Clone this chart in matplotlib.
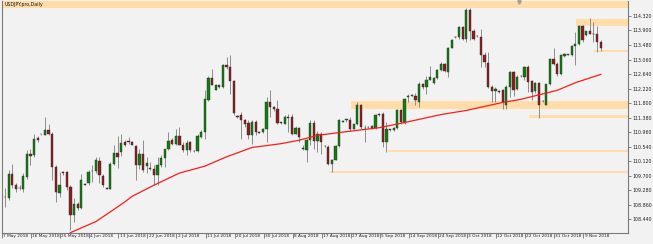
import matplotlib
matplotlib.use('Agg')
import matplotlib.pyplot as plt
from matplotlib.transforms import ScaledTranslation
import numpy as np

title = 'USDJPY.pro,Daily'

# daily OHLC (one bar per trading day incl. short sunday bars)
opens = [109.10, 109.07, 109.74, 109.43, 109.34, 109.33, 109.67, 110.34, 110.29, 110.79,
         110.90, 110.89, 111.03, 110.92, 109.96, 109.21, 109.81, 109.81, 109.38, 108.57,
         108.88, 108.76, 109.46, 109.48, 109.84, 109.84, 110.13, 109.70, 109.35, 109.33,
         110.05, 110.37, 110.39, 110.68, 110.70, 110.68, 110.55, 110.02, 110.34, 109.98,
         109.91, 109.91, 109.72, 110.01, 110.22, 110.47, 110.75, 110.63, 110.84, 110.58,
         110.44, 110.68, 110.42, 110.42, 110.82, 110.98, 111.88, 112.52, 112.19, 112.31,
         112.26, 112.89, 112.84, 112.43, 111.43, 111.45, 111.32, 111.23, 110.87, 111.26,
         110.96, 110.97, 111.06, 111.83, 111.69, 111.64, 111.24, 111.21, 111.39, 111.39,
         110.92, 111.09, 110.49, 110.45, 110.75, 111.24, 110.70, 110.92, 110.57, 110.53,
         110.05, 110.17, 110.55, 111.27, 111.30, 111.30, 111.06, 111.19, 111.75, 111.08,
         111.11, 111.08, 111.08, 111.49, 111.49, 110.68, 111.04, 111.03, 111.09, 111.61,
         111.24, 111.98, 112.02, 112.02, 111.83, 112.36, 112.26, 112.48, 112.39, 112.52,
         112.76, 112.94, 112.70, 113.40, 113.70, 113.70, 113.99, 113.66, 114.50, 113.88,
         113.75, 113.70, 113.18, 112.96, 112.28, 112.14, 112.14, 112.17, 111.76, 112.28,
         112.70, 112.20, 112.58, 112.55, 112.84, 112.43, 112.14, 112.39, 111.86, 111.76,
         112.34, 113.08, 112.94, 112.65, 113.16, 113.20, 113.18, 113.46, 113.51, 114.04,
         113.77, 113.87, 113.80, 113.80, 113.56]
highs = [109.35, 109.86, 110.03, 109.48, 109.43, 109.77, 110.46, 110.49, 110.92, 110.84,
         110.92, 111.40, 111.21, 110.97, 110.01, 109.81, 109.84, 109.84, 109.43, 109.05,
         108.95, 109.74, 109.48, 109.86, 110.01, 110.25, 110.25, 109.74, 109.38, 110.10,
         110.58, 110.84, 110.92, 110.75, 110.82, 110.70, 110.58, 110.49, 110.75, 110.25,
         110.10, 110.02, 110.25, 110.29, 110.49, 110.97, 110.80, 111.06, 111.11, 110.68,
         110.73, 110.70, 110.45, 110.92, 111.03, 112.19, 112.57, 112.79, 112.34, 112.33,
         112.94, 113.13, 113.18, 112.46, 111.46, 111.54, 111.34, 111.30, 111.30, 111.30,
         110.99, 111.09, 111.98, 112.17, 111.72, 111.88, 111.27, 111.45, 111.49, 111.49,
         111.13, 111.11, 110.58, 110.77, 111.30, 111.30, 110.99, 110.97, 110.60, 110.58,
         110.20, 110.58, 111.35, 111.30, 111.35, 111.40, 111.21, 111.83, 111.78, 111.16,
         111.14, 111.16, 111.49, 111.52, 111.54, 111.26, 111.06, 111.11, 111.64, 111.64,
         111.96, 112.07, 112.05, 112.10, 112.41, 112.38, 112.58, 112.87, 112.55, 112.79,
         112.98, 112.96, 113.42, 113.66, 113.73, 114.02, 114.02, 114.54, 114.54, 113.94,
         113.77, 113.94, 113.27, 113.27, 112.31, 112.26, 112.17, 112.22, 112.31, 112.74,
         112.74, 112.60, 112.61, 112.87, 112.89, 112.46, 112.41, 112.41, 111.88, 112.36,
         113.10, 113.39, 112.98, 113.21, 113.24, 113.23, 113.48, 113.85, 114.06, 114.06,
         113.89, 114.25, 114.14, 114.02, 113.61]
lows = [108.81, 108.99, 109.35, 109.24, 109.29, 109.24, 109.62, 110.02, 110.25, 110.68,
        110.87, 110.87, 110.87, 109.57, 108.95, 109.09, 109.72, 109.29, 108.13, 108.37,
        108.71, 108.74, 109.43, 109.45, 109.53, 109.77, 109.48, 109.38, 109.31, 109.31,
        110.02, 109.93, 110.27, 110.56, 110.63, 110.58, 109.57, 109.91, 109.81, 109.77,
        109.88, 109.43, 109.43, 109.96, 109.96, 110.44, 110.60, 110.58, 110.58, 110.39,
        110.29, 110.40, 110.39, 110.39, 110.80, 110.77, 111.85, 112.31, 112.17, 112.24,
        112.24, 112.79, 112.07, 111.45, 111.38, 110.77, 111.11, 110.77, 110.63, 110.87,
        110.93, 110.95, 110.68, 111.40, 111.58, 111.21, 111.20, 111.19, 110.97, 110.87,
        110.90, 110.68, 110.44, 110.10, 110.58, 110.49, 110.39, 110.34, 110.53, 110.00,
        109.81, 110.15, 110.53, 111.25, 111.26, 111.01, 111.04, 111.16, 111.06, 110.68,
        111.08, 111.06, 111.06, 111.43, 110.53, 110.39, 111.01, 111.01, 111.06, 111.21,
        111.21, 111.83, 112.00, 111.74, 111.69, 112.22, 112.07, 112.46, 112.36, 112.50,
        112.74, 112.70, 112.55, 113.38, 113.68, 113.66, 113.61, 113.56, 113.63, 113.61,
        113.72, 112.84, 112.84, 112.23, 111.83, 111.83, 112.10, 111.64, 111.64, 111.98,
        112.02, 112.17, 112.56, 112.46, 112.12, 111.88, 112.10, 111.37, 111.83, 111.74,
        112.31, 112.89, 112.58, 112.60, 113.13, 113.18, 113.16, 112.91, 113.49, 113.56,
        113.75, 113.79, 113.56, 113.29, 113.32]
closes = [109.08, 109.74, 109.43, 109.31, 109.35, 109.69, 110.34, 110.27, 110.77, 110.73,
          110.91, 111.03, 110.90, 109.96, 109.24, 109.45, 109.77, 109.38, 108.57, 108.88,
          108.78, 109.57, 109.45, 109.81, 109.85, 110.15, 109.72, 109.43, 109.33, 110.05,
          110.37, 110.25, 110.66, 110.60, 110.69, 110.60, 110.02, 110.34, 109.86, 110.08,
          109.92, 109.72, 110.01, 110.22, 110.47, 110.70, 110.63, 110.84, 110.60, 110.44,
          110.66, 110.44, 110.41, 110.84, 110.98, 111.91, 112.52, 112.33, 112.31, 112.26,
          112.91, 112.83, 112.43, 111.51, 111.41, 111.30, 111.19, 110.87, 111.26, 110.98,
          110.95, 111.06, 111.83, 111.69, 111.62, 111.23, 111.23, 111.40, 111.38, 110.92,
          111.09, 110.82, 110.48, 110.75, 111.24, 110.70, 110.92, 110.68, 110.56, 110.05,
          110.17, 110.55, 111.30, 111.28, 111.33, 111.06, 111.19, 111.75, 111.11, 111.07,
          111.10, 111.14, 111.45, 111.45, 110.68, 111.04, 111.03, 111.09, 111.61, 111.26,
          111.91, 112.02, 112.03, 111.88, 112.36, 112.26, 112.46, 112.55, 112.52, 112.76,
          112.94, 112.74, 113.40, 113.63, 113.71, 113.99, 113.66, 114.50, 113.88, 113.66,
          113.74, 113.18, 112.98, 112.26, 112.14, 112.22, 112.13, 111.83, 112.28, 112.70,
          112.17, 112.55, 112.59, 112.84, 112.41, 112.12, 112.39, 111.76, 111.85, 112.34,
          113.08, 112.92, 112.63, 113.18, 113.21, 113.21, 113.46, 113.51, 114.04, 113.63,
          113.87, 113.80, 113.79, 113.56, 113.39]

# moving average line, read at a few bars
ma_bar = [18, 25, 29, 33, 35, 41, 48, 55, 61, 68, 76, 81, 86, 95, 103, 110, 120, 127, 137, 142, 147, 152, 157, 164]
ma_val = [108.06, 108.38, 108.66, 108.95, 109.11, 109.43, 109.78, 109.98, 110.25, 110.52, 110.63, 110.73,
          110.87, 110.99, 111.09, 111.24, 111.47, 111.59, 111.82, 111.91, 112.04, 112.17, 112.39, 112.63]

# support / resistance zones: start bar, low, high (all run to the right edge)
zone_start = [-2, 157.2, 162.1, 95.2, 144.2, 105.4, 89.2]
zone_low = [114.55, 114.04, 113.29, 111.64, 111.37, 110.39, 109.77]
zone_high = [114.90, 114.24, 113.34, 111.85, 111.45, 110.45, 109.84]

x_tick_bars = list(range(0, 161, 8))
x_tick_labels = ['7 May 2018', '16 May 2018', '25 May 2018', '4 Jun 2018', '13 Jun 2018',
                 '22 Jun 2018', '2 Jul 2018', '11 Jul 2018', '20 Jul 2018', '30 Jul 2018',
                 '8 Aug 2018', '17 Aug 2018', '27 Aug 2018', '5 Sep 2018', '14 Sep 2018',
                 '24 Sep 2018', '3 Oct 2018', '12 Oct 2018', '22 Oct 2018', '31 Oct 2018',
                 '9 Nov 2018']
y_ticks = [108.44, 108.86, 109.28, 109.70, 110.12, 110.54, 110.96, 111.38,
           111.80, 112.22, 112.64, 113.06, 113.48, 113.90, 114.32]

bg = '#f2f2f2'
fig = plt.figure(figsize=(6.53, 2.44), dpi=100, facecolor=bg)
ax = fig.add_axes([2 / 653, 11 / 244, 626 / 653, 232 / 244])
ax.set_facecolor(bg)

x_right = 175
for s, lo, hi in zip(zone_start, zone_low, zone_high):
    ax.fill_between([s, x_right], lo, hi, color='#ffdca8', lw=0, zorder=1)

o = np.array(opens)
h = np.array(highs)
l = np.array(lows)
c = np.array(closes)
idx = np.arange(len(o))
up = c >= o

ax.vlines(idx, l, h, color='#8c8c8c', lw=0.7, zorder=2)
body_lo = np.minimum(o, c)
body_h = np.maximum(np.abs(c - o), 0.012)
cols = np.where(up, '#0d7f0d', '#8e1c1c')
ax.bar(idx, body_h, bottom=body_lo, width=0.62, color=cols,
       edgecolor='#2e2e2e', linewidth=0.3, zorder=3)

ax.plot(ma_bar, ma_val, color='#ff1a1a', lw=0.9, zorder=4)

ax.set_xlim(-0.83, 171.5)
ax.set_ylim(108.05, 114.75)

ax.text(0.004, 0.995, title, transform=ax.transAxes, va='top', ha='left',
        fontsize=3.4, color='#111111', zorder=6)
# chart shift marker at top
ax.plot([141.5], [114.72], marker='v', color='#a0a0a0', ms=2.5, clip_on=False, zorder=6)

ax.yaxis.tick_right()
ax.set_yticks(y_ticks)
ax.set_yticklabels([f'{v:.3f}' for v in y_ticks])
ax.tick_params(axis='y', length=2.2, width=0.5, pad=1.2, labelsize=3.4,
               color='#555555', labelcolor='#222222')

ax.set_xticks(np.array(x_tick_bars) - 0.8)
ax.set_xticklabels(x_tick_labels)
ax.tick_params(axis='x', length=3.6, width=0.5, pad=-2.6, labelsize=3.1,
               color='#555555', labelcolor='#222222')
offset = ScaledTranslation(1.2 / 100, 0, fig.dpi_scale_trans)
for lab in ax.get_xticklabels():
    lab.set_horizontalalignment('left')
    lab.set_transform(lab.get_transform() + offset)

for side in ['left', 'right', 'bottom']:
    ax.spines[side].set_color('#7a7a7a')
    ax.spines[side].set_linewidth(0.8)
ax.spines['top'].set_visible(False)

fig.savefig('out.png', dpi=100, facecolor=bg)
